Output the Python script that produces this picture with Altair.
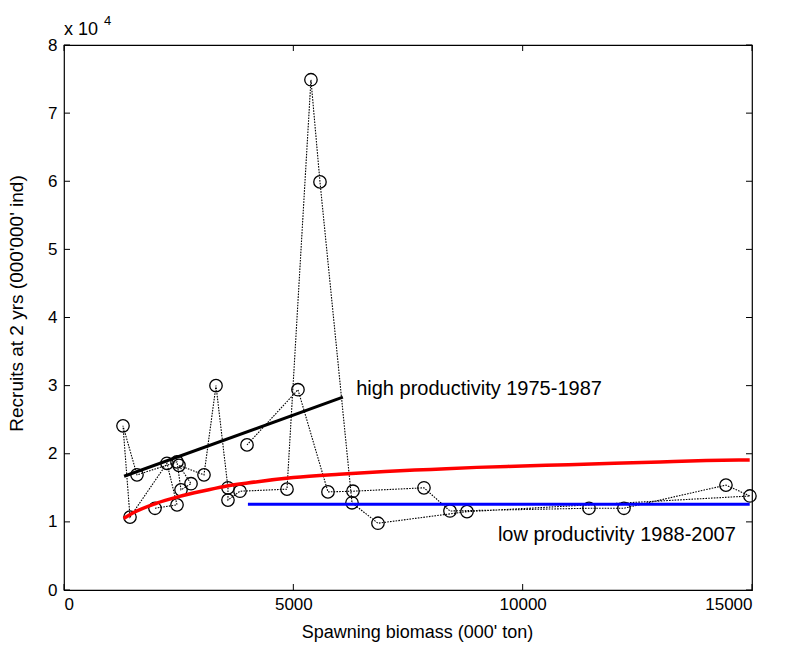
import altair as alt
import pandas as pd

# Observed stock-recruitment pairs (plotted in sequence)
biomass = [1984, 2464, 2245, 1439, 1286, 1591, 2464, 2551, 2769, 2507, 3052, 3314,
           3575, 3575, 3837, 4862, 5384, 5581, 6279, 6845, 8786, 14955, 14432, 12208,
           11446, 8415, 7848, 6300, 5755, 5101, 3990]
recruits = [1.20, 1.25, 1.86, 1.07, 2.41, 1.69, 1.88, 1.47, 1.56, 1.83, 1.69, 3.00,
            1.50, 1.32, 1.45, 1.48, 7.49, 5.99, 1.28, 0.98, 1.15, 1.38, 1.54, 1.20,
            1.20, 1.16, 1.50, 1.45, 1.44, 2.94, 2.13]

# Fitted stock-recruitment curve
curve_x = [1300, 1500, 2000, 2500, 3000, 3500, 4000, 5000, 6000, 7000, 8000, 9000,
           10000, 11000, 12000, 13000, 14000, 14950]
curve_y = [1.05, 1.13, 1.27, 1.37, 1.45, 1.52, 1.57, 1.65, 1.70, 1.74, 1.77, 1.80,
           1.82, 1.84, 1.86, 1.88, 1.90, 1.91]

# High productivity regression line
high_x = [1310, 6080]
high_y = [1.67, 2.83]

# Low productivity mean line
low_x = [4010, 14950]
low_y = [1.26, 1.26]

labels = ["high productivity 1975-1987", "low productivity 1988-2007"]
label_x = [6370, 9460]
label_y = [2.95, 0.81]

x_ticks = [0, 5000, 10000, 15000]
y_ticks = [0, 1, 2, 3, 4, 5, 6, 7, 8]

FONT = "Liberation Sans"
W, H = 688, 545

pts = pd.DataFrame({"x": biomass, "y": recruits, "order": list(range(len(biomass)))})
curve = pd.DataFrame({"x": curve_x, "y": curve_y})
high = pd.DataFrame({"x": high_x, "y": high_y})
low = pd.DataFrame({"x": low_x, "y": low_y})
ann = pd.DataFrame({"x": label_x, "y": label_y, "t": labels})
xt = pd.DataFrame({"x": x_ticks})
yt = pd.DataFrame({"y": y_ticks})

xs = alt.Scale(domain=[0, 15000], nice=False)
ys = alt.Scale(domain=[0, 8], nice=False)

X = alt.X("x:Q", scale=xs, axis=alt.Axis(
    title="Spawning biomass (000' ton)", values=x_ticks, format="d",
    grid=False, ticks=False, domain=False, labelPadding=6,
    labelFontSize=17, titleFontSize=18, titleFontWeight="normal",
    labelFont=FONT, titleFont=FONT, labelColor="black", titleColor="black",
    titleBaseline="alphabetic", titleX=353, titleY=47))
Y = alt.Y("y:Q", scale=ys, axis=alt.Axis(
    title="Recruits at 2 yrs (000'000' ind)", values=y_ticks, format="d",
    grid=False, ticks=False, domain=False, labelPadding=7,
    labelFontSize=17, titleFontSize=19, titleFontWeight="normal",
    labelFont=FONT, titleFont=FONT, labelColor="black", titleColor="black",
    titleX=-38, titleY=258))

path = alt.Chart(pts).mark_line(color="black", strokeWidth=1.1, strokeDash=[1.6, 1.2]).encode(
    x=X, y=Y, order="order:Q")
circles = alt.Chart(pts).mark_point(shape="circle", size=155, color="black",
                                    filled=False, strokeWidth=1.3, opacity=1).encode(
    x="x:Q", y="y:Q")
red = alt.Chart(curve).mark_line(color="#ff0000", strokeWidth=3.5,
                                 interpolate="monotone").encode(x="x:Q", y="y:Q")
black = alt.Chart(high).mark_line(color="black", strokeWidth=3).encode(x="x:Q", y="y:Q")
blue = alt.Chart(low).mark_line(color="#0000ff", strokeWidth=3).encode(x="x:Q", y="y:Q")
text = alt.Chart(ann).mark_text(align="left", baseline="middle", fontSize=20,
                                font=FONT, color="black").encode(
    x="x:Q", y="y:Q", text="t:N")

# inward ticks on all four sides
yl = alt.Chart(yt).mark_rule(color="black", strokeWidth=1).encode(
    y="y:Q", x=alt.value(0), x2=alt.value(6))
yr = alt.Chart(yt).mark_rule(color="black", strokeWidth=1).encode(
    y="y:Q", x=alt.value(W - 6), x2=alt.value(W))
xb = alt.Chart(xt).mark_rule(color="black", strokeWidth=1).encode(
    x="x:Q", y=alt.value(H), y2=alt.value(H - 6))
xtop = alt.Chart(xt).mark_rule(color="black", strokeWidth=1).encode(
    x="x:Q", y=alt.value(0), y2=alt.value(6))

mult = alt.Chart(pd.DataFrame({"t": ["x 10"]})).mark_text(
    align="left", baseline="alphabetic", fontSize=18, font=FONT, color="black").encode(
    x=alt.value(0), y=alt.value(-10), text="t:N")
expo = alt.Chart(pd.DataFrame({"t": ["4"]})).mark_text(
    align="left", baseline="alphabetic", fontSize=13, font=FONT, color="black").encode(
    x=alt.value(40), y=alt.value(-20), text="t:N")

chart = alt.layer(path, circles, black, red, blue, text, yl, yr, xb, xtop, mult, expo).properties(
    width=W, height=H,
    autosize=alt.AutoSizeParams(type="none"),
    padding={"left": 64, "top": 45, "right": 36, "bottom": 61},
    background="white",
).configure_view(stroke="black", strokeWidth=1.2)

chart.save("out.html", embed_options={"renderer": "svg", "actions": False})
